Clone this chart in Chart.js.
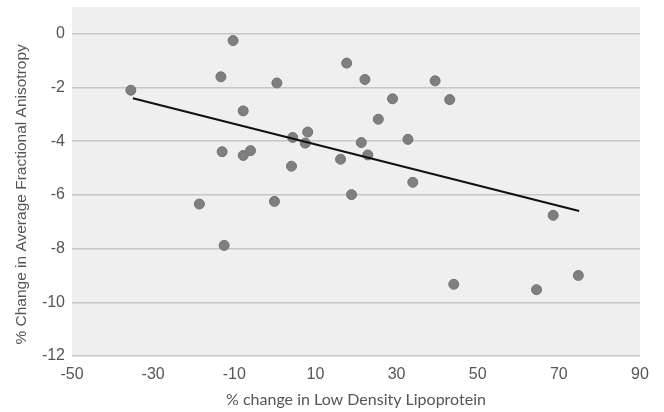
<!DOCTYPE html>
<html>
<head>
<meta charset="utf-8">
<script src="https://cdn.jsdelivr.net/npm/chart.js@4/dist/chart.umd.min.js"></script>
<style>
  html, body { margin: 0; padding: 0; background: #fff; }
  #wrap { width: 664px; height: 412px; }
</style>
</head>
<body>
<div id="wrap"><canvas id="myChart"></canvas></div>
<script>
// % change in LDL (x) vs % change in average FA (y)
const ldlChange = [-35.5, -10.3, -13.3, 0.5, -7.8, -13.0, -7.8, -6.0, 4.1, 4.4, 7.5, 8.1, -18.6, -0.1, -12.5,
  17.7, 22.2, 39.5, 29.0, 43.1, 25.5, 21.3, 32.8, 16.2, 22.9, 34.0, 18.9, 68.6, 44.1, 64.5, 74.8];
const faChange = [-2.1, -0.25, -1.6, -1.83, -2.87, -4.39, -4.53, -4.35, -4.93, -3.86, -4.07, -3.66, -6.34, -6.24, -7.88,
  -1.09, -1.70, -1.75, -2.42, -2.45, -3.18, -4.05, -3.93, -4.67, -4.51, -5.53, -5.99, -6.76, -9.33, -9.53, -9.0];
const trendX = [-35, 75];
const trendY = [-2.4, -6.6];

const points = ldlChange.map((x, i) => ({ x: x, y: faChange[i] }));
const trend = trendX.map((x, i) => ({ x: x, y: trendY[i] }));

const plotBg = {
  id: 'plotBg',
  beforeDraw(chart) {
    const a = chart.chartArea;
    const ctx = chart.ctx;
    ctx.save();
    ctx.fillStyle = '#efefef';
    ctx.fillRect(a.left, a.top, a.right - a.left, a.bottom - a.top);
    ctx.restore();
  }
};

const config = {
  type: 'scatter',
  data: {
    datasets: [
      {
        label: 'Trend',
        type: 'line',
        data: trend,
        borderColor: '#111',
        borderWidth: 2.2,
        pointRadius: 0,
        fill: false
      },
      {
        label: 'Subjects',
        data: points,
        backgroundColor: '#7f7f7f',
        borderColor: '#737373',
        borderWidth: 1,
        pointRadius: 5
      }
    ]
  },
  plugins: [plotBg],
  options: {
    responsive: true,
    maintainAspectRatio: false,
    animation: false,
    layout: { padding: { top: 7, right: 24, left: 0, bottom: 0 } },
    plugins: {
      legend: { display: false },
      tooltip: { enabled: false }
    },
    scales: {
      x: {
        type: 'linear',
        min: -50,
        max: 90,
        afterFit(scale) { scale.height = 56; },
        grid: { display: false },
        border: { display: false },
        ticks: {
          stepSize: 20,
          color: '#555',
          padding: 1,
          font: { family: 'Liberation Sans', size: 16 }
        },
        title: {
          display: true,
          text: '% change in Low Density Lipoprotein',
          color: '#555',
          padding: { top: 2, bottom: 3 },
          font: { family: 'Lato', size: 16 }
        }
      },
      y: {
        type: 'linear',
        min: -12,
        max: 1,
        afterFit(scale) {
          scale.width = 72;
          scale.paddingTop = 0;
          scale.paddingBottom = 0;
        },
        grid: {
          color: (c) => (c.tick && c.tick.value % 2 === 0) ? '#c6c6c6' : 'rgba(0,0,0,0)',
          lineWidth: 1.5,
          drawTicks: false
        },
        border: { display: false },
        ticks: {
          stepSize: 2,
          includeBounds: false,
          color: '#555',
          padding: 7,
          font: { family: 'Liberation Sans', size: 16 }
        },
        title: {
          display: true,
          // trailing no-break spaces nudge the centred title down a little
          text: '% Change in Average Fractional Anisotropy\u00a0\u00a0\u00a0\u00a0\u00a0\u00a0',
          color: '#555',
          padding: { top: 12, bottom: 4 },
          font: { family: 'Liberation Sans', size: 15.5 }
        }
      }
    }
  }
};

const myChart = new Chart(document.getElementById('myChart'), config);
</script>
</body>
</html>
